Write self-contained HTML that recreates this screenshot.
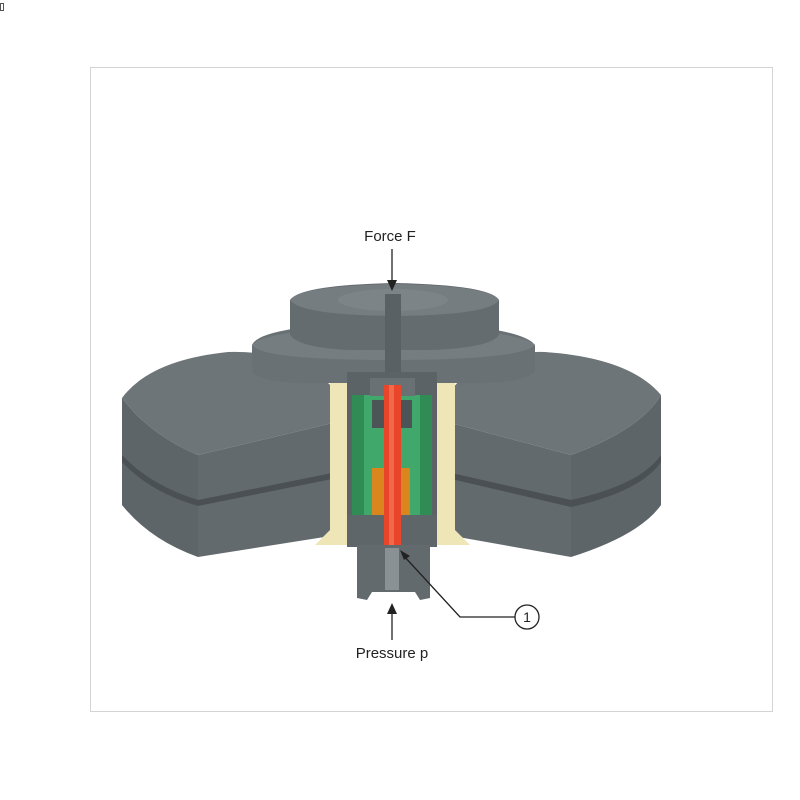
<!DOCTYPE html>
<html><head><meta charset="utf-8"><style>
html,body{margin:0;padding:0;background:#fff;width:800px;height:800px;overflow:hidden}
svg{display:block}
text{font-family:"Liberation Sans",Arial,sans-serif;fill:#222}
</style></head><body>
<svg width="800" height="800" viewBox="0 0 800 800" xmlns="http://www.w3.org/2000/svg">
<rect x="0.5" y="3.5" width="3" height="7" fill="none" stroke="#555" stroke-width="1"/>
<rect x="90.5" y="67.5" width="682" height="644" fill="#fff" stroke="#d4d4d4" stroke-width="1"/>

<!-- left block -->
<path d="M122,398 Q150,360 228,352 Q300,350 337,392 L337,422 L198,455 Q150,435 122,398 Z" fill="#6e7579"/>
<path d="M122,398 Q150,435 198,455 L198,557 Q150,540 122,505 Z" fill="#5e6568"/>
<path d="M198,455 L337,422 L337,535 L198,557 Z" fill="#636a6e"/>
<path d="M122,455 Q150,485 198,500 L337,472 L337,478 L198,506 Q150,492 122,462 Z" fill="#4a5053"/>
<!-- right block -->
<path d="M447,395 Q480,350 545,352 Q630,358 661,395 Q640,430 571,455 L447,422 Z" fill="#6e7579"/>
<path d="M571,455 Q640,430 661,395 L661,505 Q640,535 571,557 Z" fill="#5e6568"/>
<path d="M447,422 L571,455 L571,557 L447,535 Z" fill="#636a6e"/>
<path d="M447,472 L571,500 Q640,485 661,455 L661,462 Q640,492 571,507 L447,478 Z" fill="#4a5053"/>

<!-- yellow housing -->
<path d="M330,383 L455,383 L455,530 L470,545 L315,545 L330,530 Z" fill="#efe6b8"/>
<!-- middle tier -->
<path d="M252,345 Q260,325 390,322 Q520,325 535,345 L535,372 Q520,385 455,383 L330,383 Q265,385 252,372 Z" fill="#6a7175"/>
<path d="M252,345 Q262,330 390,326 Q520,330 535,345 Q520,360 390,360 Q262,360 252,345 Z" fill="#767d81"/>
<!-- top tier -->
<path d="M290,300 Q300,285 395,283 Q490,285 499,300 L499,335 Q490,348 430,350 L350,350 Q300,348 290,335 Z" fill="#656c70"/>
<path d="M290,300 Q300,286 395,284 Q490,286 499,300 Q490,315 395,316 Q300,315 290,300 Z" fill="#767d81"/>
<ellipse cx="393" cy="300" rx="55" ry="11" fill="#7d8488"/>
<rect x="385" y="294" width="16" height="90" fill="#5a6164"/>

<!-- inner housing -->
<rect x="347" y="372" width="90" height="175" fill="#5c6366"/>
<rect x="352" y="395" width="80" height="125" fill="#3fa86a"/>
<rect x="352" y="395" width="12" height="125" fill="#2f8c55"/>
<rect x="420" y="395" width="12" height="125" fill="#2f8c55"/>
<rect x="370" y="378" width="45" height="18" fill="#6a7175"/>
<rect x="372" y="400" width="40" height="28" fill="#4d5457"/>
<rect x="372" y="468" width="38" height="68" fill="#d9861f"/>
<rect x="347" y="515" width="90" height="32" fill="#5f6669"/>
<rect x="384" y="385" width="17" height="163" fill="#e8452a"/>
<rect x="389" y="385" width="5" height="163" fill="#f06a4a"/>
<!-- stem -->
<path d="M357,545 L430,545 L430,598 L420,600 L415,592 L372,592 L367,600 L357,598 Z" fill="#636a6e"/>
<rect x="385" y="548" width="14" height="42" fill="#8a9194"/>

<!-- labels & arrows -->
<text x="390" y="241" font-size="15" text-anchor="middle">Force F</text>
<line x1="392" y1="249" x2="392" y2="282" stroke="#222" stroke-width="1.3"/>
<path d="M387,280 L397,280 L392,291 Z" fill="#222"/>
<text x="392" y="658" font-size="15" text-anchor="middle">Pressure p</text>
<line x1="392" y1="640" x2="392" y2="612" stroke="#222" stroke-width="1.3"/>
<path d="M387,614 L397,614 L392,603 Z" fill="#222"/>
<polyline points="403,555 460,617 515,617" fill="none" stroke="#222" stroke-width="1.3"/>
<path d="M400,550 L410,556 L404,560 Z" fill="#222"/>
<circle cx="527" cy="617" r="12" fill="#fff" stroke="#222" stroke-width="1.3"/>
<text x="527" y="622" font-size="14" text-anchor="middle">1</text>
</svg>
</body></html>
